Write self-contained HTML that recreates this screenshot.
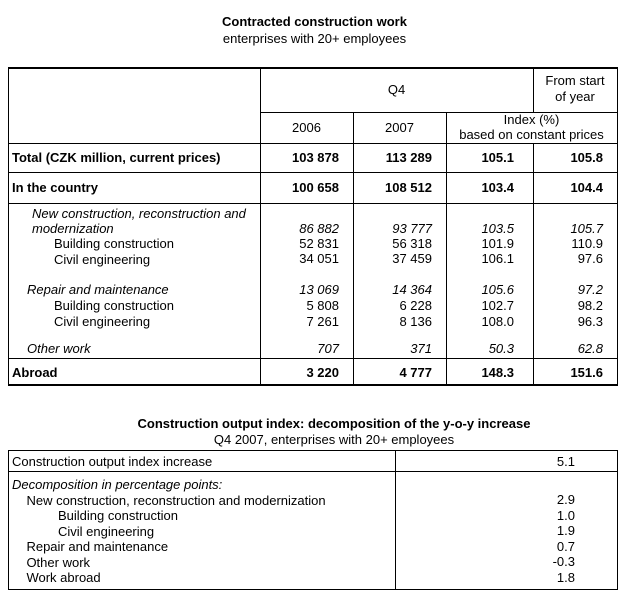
<!DOCTYPE html>
<html><head><meta charset="utf-8"><style>
body{margin:0;width:629px;height:595px;background:#fff;position:relative;font-family:"Liberation Sans",Arial,sans-serif;font-size:13px;color:#000;overflow:hidden}
.t{position:absolute;white-space:nowrap;line-height:15px}
.b{font-weight:bold}.i{font-style:italic}
.h{position:absolute;height:1px;background:#000}
.v{position:absolute;width:1px;background:#000}
.r{text-align:right}
.c{text-align:center}
</style></head><body>
<div class="t b c" style="left:0;width:629px;top:14px">Contracted construction work</div>
<div class="t c" style="left:0;width:629px;top:31px">enterprises with 20+ employees</div>

<div class="h" style="left:8px;width:610px;top:67px;height:2px"></div>
<div class="h" style="left:260px;width:357px;top:112px"></div>
<div class="h" style="left:8px;width:610px;top:143px"></div>
<div class="h" style="left:8px;width:610px;top:172px"></div>
<div class="h" style="left:8px;width:610px;top:203px"></div>
<div class="h" style="left:8px;width:610px;top:358px"></div>
<div class="h" style="left:8px;width:610px;top:384px;height:2px"></div>
<div class="v" style="left:8px;top:67px;height:319px"></div>
<div class="v" style="left:617px;top:67px;height:319px"></div>
<div class="v" style="left:260px;top:67px;height:319px"></div>
<div class="v" style="left:353px;top:112px;height:274px"></div>
<div class="v" style="left:446px;top:112px;height:274px"></div>
<div class="v" style="left:533px;top:67px;height:45px"></div>
<div class="v" style="left:533px;top:143px;height:243px"></div>

<div class="t c" style="left:260px;width:273px;top:82px">Q4</div>
<div class="t c" style="left:533px;width:84px;top:73px">From start</div>
<div class="t c" style="left:533px;width:84px;top:89px">of year</div>
<div class="t c" style="left:260px;width:93px;top:120px">2006</div>
<div class="t c" style="left:353px;width:93px;top:120px">2007</div>
<div class="t c" style="left:446px;width:171px;top:112px">Index (%)</div>
<div class="t c" style="left:446px;width:171px;top:127px">based on constant prices</div>

<div class="t b" style="left:12px;top:150px">Total (CZK million, current prices)</div>
<div class="t b r" style="left:260px;width:79px;top:150px">103 878</div>
<div class="t b r" style="left:353px;width:79px;top:150px">113 289</div>
<div class="t b r" style="left:446px;width:68px;top:150px">105.1</div>
<div class="t b r" style="left:533px;width:70px;top:150px">105.8</div>

<div class="t b" style="left:12px;top:180px">In the country</div>
<div class="t b r" style="left:260px;width:79px;top:180px">100 658</div>
<div class="t b r" style="left:353px;width:79px;top:180px">108 512</div>
<div class="t b r" style="left:446px;width:68px;top:180px">103.4</div>
<div class="t b r" style="left:533px;width:70px;top:180px">104.4</div>

<div class="t i" style="left:32px;top:206px">New construction, reconstruction and</div>
<div class="t i" style="left:32px;top:221px">modernization</div>
<div class="t" style="left:54px;top:236px">Building construction</div>
<div class="t" style="left:54px;top:252px">Civil engineering</div>
<div class="t i" style="left:27px;top:282px">Repair and maintenance</div>
<div class="t" style="left:54px;top:298px">Building construction</div>
<div class="t" style="left:54px;top:314px">Civil engineering</div>
<div class="t i" style="left:27px;top:341px">Other work</div>

<div class="t r" style="left:260px;width:79px;top:221px"><i>86 882</i><br>52 831<br>34 051</div>
<div class="t r" style="left:353px;width:79px;top:221px"><i>93 777</i><br>56 318<br>37 459</div>
<div class="t r" style="left:446px;width:68px;top:221px"><i>103.5</i><br>101.9<br>106.1</div>
<div class="t r" style="left:533px;width:70px;top:221px"><i>105.7</i><br>110.9<br>97.6</div>
<div class="t r" style="left:260px;width:79px;top:282px;line-height:16px"><i>13 069</i><br>5 808<br>7 261</div>
<div class="t r" style="left:353px;width:79px;top:282px;line-height:16px"><i>14 364</i><br>6 228<br>8 136</div>
<div class="t r" style="left:446px;width:68px;top:282px;line-height:16px"><i>105.6</i><br>102.7<br>108.0</div>
<div class="t r" style="left:533px;width:70px;top:282px;line-height:16px"><i>97.2</i><br>98.2<br>96.3</div>
<div class="t i r" style="left:260px;width:79px;top:341px">707</div>
<div class="t i r" style="left:353px;width:79px;top:341px">371</div>
<div class="t i r" style="left:446px;width:68px;top:341px">50.3</div>
<div class="t i r" style="left:533px;width:70px;top:341px">62.8</div>

<div class="t b" style="left:12px;top:365px">Abroad</div>
<div class="t b r" style="left:260px;width:79px;top:365px">3 220</div>
<div class="t b r" style="left:353px;width:79px;top:365px">4 777</div>
<div class="t b r" style="left:446px;width:68px;top:365px">148.3</div>
<div class="t b r" style="left:533px;width:70px;top:365px">151.6</div>

<div class="t b c" style="left:0;width:668px;top:416px">Construction output index: decomposition of the y-o-y increase</div>
<div class="t c" style="left:0;width:668px;top:432px">Q4 2007, enterprises with 20+ employees</div>
<div class="h" style="left:8px;width:610px;top:450px"></div>
<div class="h" style="left:8px;width:610px;top:471px"></div>
<div class="h" style="left:8px;width:610px;top:589px"></div>
<div class="v" style="left:8px;top:450px;height:140px"></div>
<div class="v" style="left:395px;top:450px;height:140px"></div>
<div class="v" style="left:617px;top:450px;height:140px"></div>
<div class="t" style="left:12px;top:454px">Construction output index increase</div>
<div class="t r" style="left:395px;width:180px;top:454px">5.1</div>
<div class="t" style="left:12px;top:477px;line-height:15.5px"><i>Decomposition in percentage points:</i><br>&nbsp;&nbsp;&nbsp;&nbsp;New construction, reconstruction and modernization<br><span style="padding-left:46px">Building construction</span><br><span style="padding-left:46px">Civil engineering</span><br>&nbsp;&nbsp;&nbsp;&nbsp;Repair and maintenance<br>&nbsp;&nbsp;&nbsp;&nbsp;Other work<br>&nbsp;&nbsp;&nbsp;&nbsp;Work abroad</div>
<div class="t r" style="left:395px;width:180px;top:492px;line-height:15.5px">2.9<br>1.0<br>1.9<br>0.7<br>-0.3<br>1.8</div>
</body></html>
